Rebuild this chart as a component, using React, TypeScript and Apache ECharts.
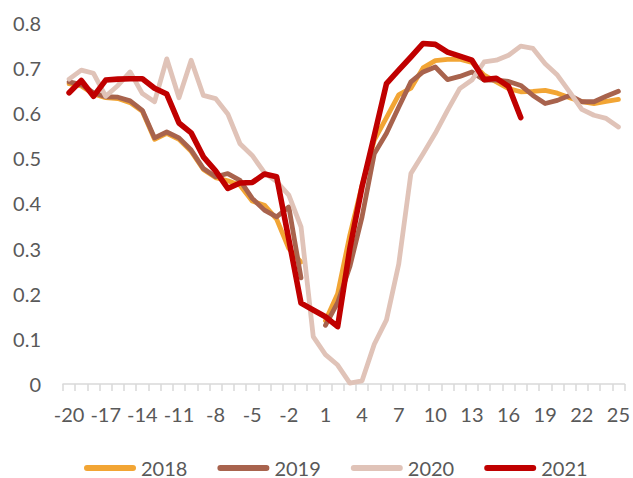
import React, { useEffect, useRef } from "react";
import * as echarts from "echarts";

const categories: string[] = [];
for (let d = -20; d <= 25; d++) categories.push(String(d));

const seriesNames = ["2018", "2019", "2020", "2021"];

const v2018: (number | null)[] = [
  0.665, 0.66, 0.642, 0.634, 0.632, 0.623, 0.604, 0.542, 0.555, 0.542,
  0.515, 0.475, 0.457, 0.45, 0.44, 0.405, 0.396, 0.365, 0.3, 0.27,
  null, 0.14, 0.2, 0.33, 0.44, 0.54, 0.59, 0.64, 0.655, 0.7,
  0.716, 0.719, 0.719, 0.712, 0.684, 0.669, 0.654, 0.647, 0.648, 0.65,
  0.644, 0.634, 0.625, 0.621, 0.626, 0.63,
];

const v2019: (number | null)[] = [
  0.669, 0.663, 0.645, 0.636, 0.635, 0.627, 0.606, 0.545, 0.558, 0.545,
  0.518, 0.477, 0.459, 0.466, 0.451, 0.411, 0.385, 0.37, 0.392, 0.235,
  null, 0.13, 0.18, 0.26, 0.37, 0.51, 0.555, 0.613, 0.669, 0.691,
  0.702, 0.674, 0.681, 0.691, 0.673, 0.673, 0.67, 0.661, 0.639, 0.621,
  0.628, 0.639, 0.625, 0.625, 0.637, 0.648,
];

const v2020: (number | null)[] = [
  0.675, 0.695, 0.688, 0.637, 0.661, 0.691, 0.643, 0.625, 0.72, 0.634,
  0.717, 0.639, 0.632, 0.598, 0.532, 0.506, 0.468, 0.448, 0.418, 0.348,
  0.105, 0.065, 0.042, 0.002, 0.007, 0.088, 0.142, 0.265, 0.466, 0.51,
  0.555, 0.606, 0.654, 0.673, 0.713, 0.717, 0.728, 0.748, 0.743, 0.709,
  0.684, 0.647, 0.608, 0.595, 0.588, 0.569,
];

const v2021: (number | null)[] = [
  0.645, 0.672, 0.637, 0.673, 0.675, 0.676, 0.676, 0.655, 0.642, 0.578,
  0.556, 0.503, 0.472, 0.433, 0.445, 0.446, 0.465, 0.459, 0.32, 0.179,
  0.164, 0.149, 0.127, 0.3, 0.437, 0.55, 0.665, 0.695, 0.724, 0.754,
  0.752, 0.735, 0.726, 0.717, 0.674, 0.677, 0.659, 0.59, null, null,
  null, null, null, null, null, null,
];

const colors = ["#F2A534", "#A8634D", "#E0C3B8", "#C00000"];
const widths = [4.8, 4.8, 4.8, 5.6];
const allValues = [v2018, v2019, v2020, v2021];

const FONT = "Lato, 'Liberation Sans', sans-serif";

export default function App() {
  const ref = useRef<HTMLDivElement>(null);
  useEffect(() => {
    document.body.style.margin = "0";
    if (!ref.current) return;
    const chart = echarts.init(ref.current, undefined, { renderer: "svg" });
    const legendIcon =
      "path://M3,0 L49,0 A3,3 0 0 1 49,6 L3,6 A3,3 0 0 1 3,0 Z";
    chart.setOption({
      animation: false,
      backgroundColor: "#ffffff",
      textStyle: { fontFamily: FONT },
      grid: { left: 63, right: 8, top: 22.7, bottom: 94 },
      legend: {
        data: seriesNames,
        left: 79,
        top: 452,
        icon: legendIcon,
        itemWidth: 52,
        itemHeight: 6,
        itemGap: 30,
        textStyle: {
          fontSize: 20,
          lineHeight: 22,
          color: "#595959",
          fontFamily: FONT,
        },
      },
      xAxis: {
        type: "category",
        data: categories,
        boundaryGap: true,
        axisLine: { show: true, lineStyle: { color: "#D9D9D9", width: 1.5 } },
        axisTick: {
          show: true,
          interval: 0,
          alignWithLabel: false,
          length: 7,
          lineStyle: { color: "#D9D9D9", width: 1.5 },
        },
        axisLabel: {
          interval: 2,
          margin: 20,
          fontSize: 20,
          color: "#595959",
          fontFamily: FONT,
        },
        splitLine: { show: false },
      },
      yAxis: {
        type: "value",
        min: 0,
        max: 0.8,
        interval: 0.1,
        axisLine: { show: false },
        axisTick: { show: false },
        splitLine: { show: false },
        axisLabel: {
          margin: 22,
          fontSize: 20,
          color: "#595959",
          fontFamily: FONT,
        },
      },
      series: seriesNames.map((name, i) => ({
        name,
        type: "line",
        data: allValues[i],
        showSymbol: false,
        symbol: "none",
        connectNulls: false,
        color: colors[i],
        lineStyle: {
          color: colors[i],
          width: widths[i],
          cap: "round",
          join: "round",
        },
        z: 2 + i,
      })),
    });
    return () => chart.dispose();
  }, []);
  return (
    <div
      ref={ref}
      style={{ position: "absolute", left: 0, top: 0, width: 633, height: 478 }}
    />
  );
}
